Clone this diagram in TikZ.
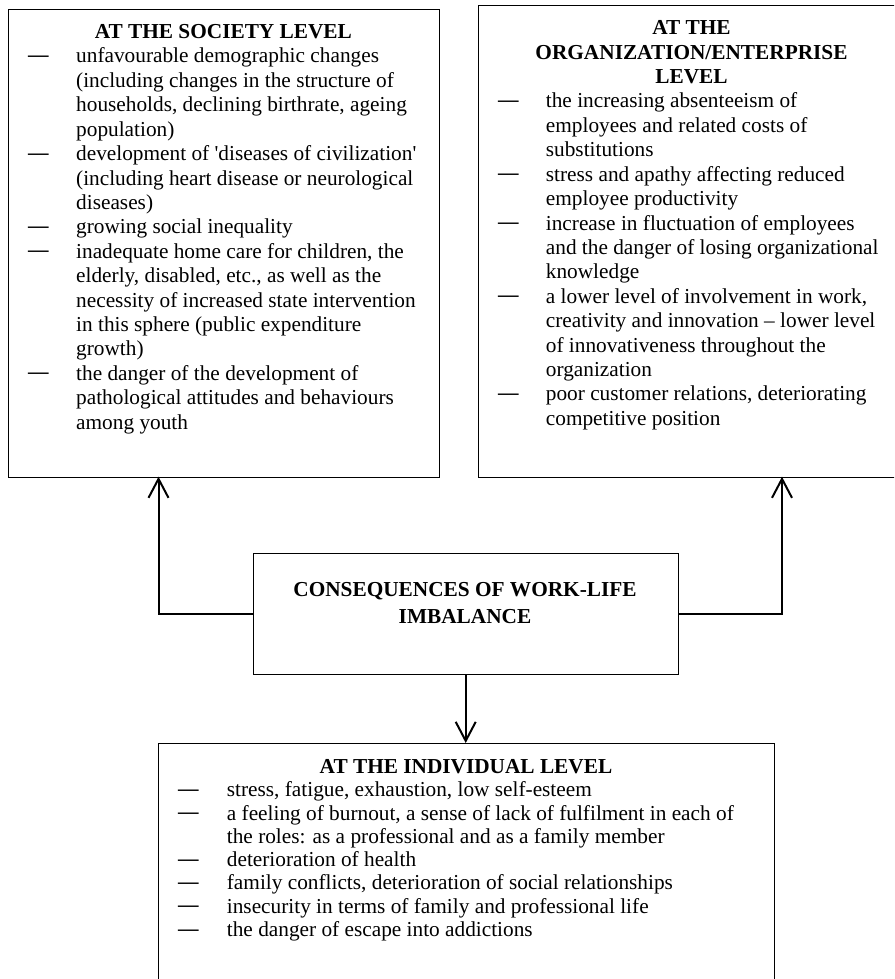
\documentclass[tikz,border=0pt]{standalone}
\usepackage{fontspec}
\setmainfont{Liberation Serif}
\usetikzlibrary{arrows.meta}
\tikzset{
  boxx/.style={draw, line width=1.2pt, inner sep=0pt, anchor=north west},
  txt/.style={inner sep=0pt, anchor=base west, font=\fontsize{21.3}{24}\selectfont},
  dsh/.style={inner sep=0pt, anchor=base west, font=\fontsize{20.5}{24}\selectfont\bfseries},
  ttl/.style={inner sep=0pt, anchor=base, font=\fontsize{21.3}{24}\selectfont\bfseries},
  arr/.style={line width=2pt, -{Straight Barb[length=19pt,width=20pt,line width=2pt]}}
}
\begin{document}
\begin{tikzpicture}[x=1pt,y=-1pt]
\useasboundingbox (0,0) rectangle (894,979);
\clip (0,0) rectangle (894,979);
% boxes
\node[boxx, minimum width=430.8pt, minimum height=467.7pt] (soc) at (8,9) {};
\node[boxx, minimum width=430pt, minimum height=471.7pt] (org) at (477.6,5) {};
\node[boxx, minimum width=425pt, minimum height=121pt] (cen) at (252.6,553) {};
\node[boxx, minimum width=615.7pt, minimum height=260pt] (ind) at (158,743) {};
% titles
\node[ttl] (tsoc) at (223.4,38.5) {AT THE SOCIETY LEVEL};
\node[ttl] (torg1) at (691.5,35) {AT THE};
\node[ttl] (torg2) at (691.5,59.4) {ORGANIZATION/ENTERPRISE};
\node[ttl] (torg3) at (691.5,83.8) {LEVEL};
\node[ttl] (tcen1) at (465,596.7) {CONSEQUENCES OF WORK-LIFE};
\node[ttl] (tcen2) at (465,623.3) {IMBALANCE};
\node[ttl] (tind) at (466,773) {AT THE INDIVIDUAL LEVEL};
% society items
\foreach \d/\t [count=\i] in {
 1/{unfavourable demographic changes},
 0/{(including changes in the structure of},
 0/{households, declining birthrate, ageing},
 0/{population)},
 1/{development of \textquotesingle diseases of civilization\textquotesingle},
 0/{(including heart disease or neurological},
 0/{diseases)},
 1/{growing social inequality},
 1/{inadequate home care for children, the},
 0/{elderly, disabled, etc., as well as the},
 0/{necessity of increased state intervention},
 0/{in this sphere (public expenditure},
 0/{growth)},
 1/{the danger of the development of},
 0/{pathological attitudes and behaviours},
 0/{among youth}}{
 \node[txt] (s\i) at (76,{63+24.4*(\i-1)}) {\t};
 \ifnum\d=1 \node[dsh] (sd\i) at (28,{61.5+24.4*(\i-1)}) {—}; \fi
}
% organization items
\foreach \d/\t [count=\i] in {
 1/{the increasing absenteeism of},
 0/{employees and related costs of},
 0/{substitutions},
 1/{stress and apathy affecting reduced},
 0/{employee productivity},
 1/{increase in fluctuation of employees},
 0/{and the danger of losing organizational},
 0/{knowledge},
 1/{a lower level of involvement in work,},
 0/{creativity and innovation – lower level},
 0/{of innovativeness throughout the},
 0/{organization},
 1/{poor customer relations, deteriorating},
 0/{competitive position}}{
 \node[txt] (o\i) at (545.7,{108+24.4*(\i-1)}) {\t};
 \ifnum\d=1 \node[dsh] (od\i) at (498,{106.5+24.4*(\i-1)}) {—}; \fi
}
% individual items
\foreach \d/\t [count=\i] in {
 1/{stress, fatigue, exhaustion, low self-esteem},
 1/{a feeling of burnout, a sense of lack of fulfilment in each of},
 0/{the roles: as a professional and as a family member},
 1/{deterioration of health},
 1/{family conflicts, deterioration of social relationships},
 1/{insecurity in terms of family and professional life},
 1/{the danger of escape into addictions}}{
 \node[txt] (i\i) at (226.7,{796.7+23.3*(\i-1)}) {\t};
 \ifnum\d=1 \node[dsh] (id\i) at (178,{795.2+23.3*(\i-1)}) {—}; \fi
}
% connectors
\coordinate (tl) at (158.5,476.7);
\coordinate (tr) at (782,476.7);
\draw[arr] (cen.west) -| (tl);
\draw[arr] (cen.east) -| (tr);
\draw[arr] (cen.south) -- (ind.north -| cen.south);
\end{tikzpicture}
\end{document}
